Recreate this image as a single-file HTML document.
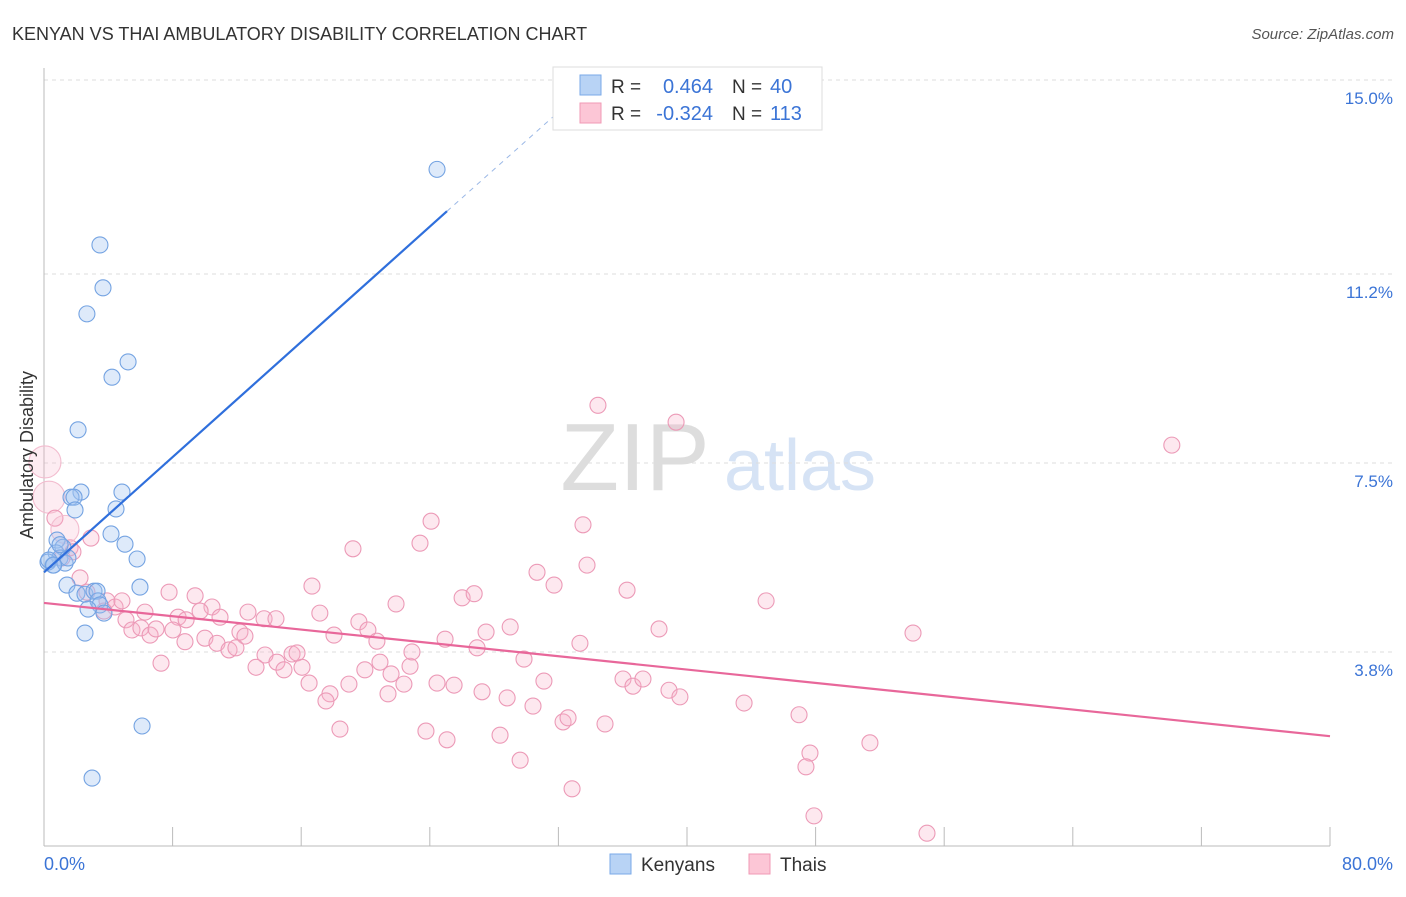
<!DOCTYPE html>
<html><head><meta charset="utf-8"><style>
body{margin:0;background:#fff;font-family:"Liberation Sans",sans-serif;}
svg text{font-family:"Liberation Sans",sans-serif;}
</style></head><body>
<svg id="c" width="1406" height="892" xmlns="http://www.w3.org/2000/svg">
<text x="12" y="40" font-size="18" fill="#333">KENYAN VS THAI AMBULATORY DISABILITY CORRELATION CHART</text>
<text x="1394" y="39" font-size="15" fill="#555" font-style="italic" text-anchor="end">Source: ZipAtlas.com</text>
<g>
<text x="635" y="490" font-size="96" fill="#ddd" font-family="Liberation Serif,serif" text-anchor="middle">ZIP</text>
<text x="800" y="490" font-size="72" fill="#d6e3f5" text-anchor="middle">atlas</text>
</g>
<g id="grid"></g><g id="axes"></g><g id="pts"></g><g id="trend"></g>
<text x="33" y="455" font-size="18" fill="#333" text-anchor="middle" transform="rotate(-90 33 455)">Ambulatory Disability</text>
<g>
<rect x="553" y="67" width="269" height="63" fill="#fff" stroke="#ddd"/>
<rect x="580" y="75" width="21" height="20" fill="#b8d3f5" stroke="#7aaae8"/>
<rect x="580" y="103" width="21" height="20" fill="#fcc6d6" stroke="#f09ab5"/>
<text x="611" y="93" font-size="19" fill="#333">R =</text><text x="713" y="93" font-size="20" fill="#3b74d6" text-anchor="end">0.464</text>
<text x="732" y="93" font-size="19" fill="#333">N =</text><text x="770" y="93" font-size="20" fill="#3b74d6">40</text>
<text x="611" y="120" font-size="19" fill="#333">R =</text><text x="713" y="120" font-size="20" fill="#3b74d6" text-anchor="end">-0.324</text>
<text x="732" y="120" font-size="19" fill="#333">N =</text><text x="770" y="120" font-size="20" fill="#3b74d6">113</text>
</g>
<g>
<rect x="610" y="854" width="21" height="20" fill="#b8d3f5" stroke="#7aaae8"/>
<text x="641" y="871" font-size="19" fill="#333">Kenyans</text>
<rect x="749" y="854" width="21" height="20" fill="#fcc6d6" stroke="#f09ab5"/>
<text x="780" y="871" font-size="19" fill="#333">Thais</text>
</g>
</svg>
<script>
const xTicks=[0,80];
const yTicks=[3.8,7.5,11.2,15.0];
const kenyanX=[24.45,3.48,3.67,2.67,5.23,4.23,2.12,2.30,4.85,1.68,1.87,1.93,4.48,4.17,0.81,5.04,1.18,0.75,0.99,5.79,0.56,1.31,1.49,1.43,5.97,2.05,2.55,3.11,3.30,3.36,3.48,2.74,3.73,2.55,6.10,2.99,0.25,0.3,0.6,1.0];
const kenyanY=[13.25,11.77,10.93,10.42,9.48,9.18,8.15,6.93,6.93,6.83,6.83,6.58,6.60,6.11,5.99,5.91,5.85,5.74,5.64,5.62,5.50,5.54,5.64,5.11,5.07,4.95,4.93,4.99,4.99,4.80,4.72,4.64,4.56,4.17,2.35,1.33,5.56,5.6,5.5,5.9];
const thaiX=[0.06,0.31,0.68,2.92,1.62,1.80,1.12,2.24,2.67,3.92,4.42,4.85,3.73,6.28,5.10,5.47,6.03,6.60,6.97,7.78,8.34,8.84,9.40,10.45,9.71,10.95,12.69,13.69,14.43,8.02,8.77,10.01,10.76,12.19,12.50,11.51,11.94,7.28,13.19,13.75,14.49,14.93,15.43,15.74,16.05,16.49,16.67,17.16,18.04,19.22,19.59,20.15,20.71,19.96,18.97,17.79,17.54,18.41,20.90,21.59,22.39,21.40,21.90,22.77,22.89,23.39,24.08,24.45,24.95,23.76,25.07,25.51,26.01,26.76,26.94,27.50,27.25,28.37,28.81,29.00,29.62,29.86,30.42,30.67,31.10,31.73,32.29,32.60,32.85,33.34,33.53,33.78,34.46,34.90,36.02,36.27,36.64,37.26,38.26,38.88,39.32,39.56,43.55,44.92,46.97,47.65,47.40,47.90,51.38,54.06,54.93,70.16,1.3];
const thaiY=[7.52,6.83,6.42,6.03,5.84,5.76,5.64,5.25,4.97,4.80,4.68,4.80,4.60,4.58,4.43,4.23,4.27,4.13,4.25,4.97,4.48,4.43,4.90,4.68,4.60,4.48,4.58,4.45,4.45,4.23,4.00,4.07,3.97,4.19,4.11,3.84,3.88,3.58,3.50,3.74,3.60,3.45,3.76,3.78,3.50,3.19,5.09,4.56,4.13,5.82,4.39,4.23,4.01,3.45,3.17,2.98,2.84,2.29,3.60,3.37,3.17,2.98,4.74,3.52,3.80,5.93,6.36,3.19,4.05,2.25,2.08,3.15,4.86,4.94,3.88,4.19,3.02,2.17,2.90,4.29,1.68,3.66,2.74,5.36,3.23,5.11,2.43,2.51,1.12,3.97,6.29,5.50,8.63,2.39,3.27,5.01,3.13,3.27,4.25,3.05,8.30,2.92,2.80,4.80,2.57,1.82,1.55,0.59,2.02,4.17,0.25,7.85,6.2];
const kenyanTrend=[[0,5.36],[25.07,12.43]];
const kenyanDash=[[25.07,12.43],[32.1,14.4]];
const thaiTrend=[[0,4.76],[80,2.15]];
const X=v=>44+v*1286/80, Y=v=>846-v*766/15;
const NS="http://www.w3.org/2000/svg";
function mk(p,tag,a){const e=document.createElementNS(NS,tag);for(const k in a)e.setAttribute(k,a[k]);document.getElementById(p).appendChild(e);return e;}
yTicks.forEach(t=>{
 const l=mk('grid','line',{x1:44,x2:1394,y1:Y(t),y2:Y(t),stroke:'#ddd','stroke-dasharray':'4,4'});
 
 
 const tx=mk('axes','text',{x:1393,y:Y(t)+24,'font-size':17,fill:'#3b74d6','text-anchor':'end'});
 tx.textContent=t.toFixed(1)+'%';
 
 
});
const ax=mk('axes','line',{x1:44,x2:1330,y1:846,y2:846,stroke:'#bbb'});


const ay=mk('axes','line',{x1:44,x2:44,y1:68,y2:846,stroke:'#bbb'});


for(let i=0;i<=10;i++){const tk=mk('axes','line',{x1:X(i*8),x2:X(i*8),y1:827,y2:846,stroke:'#bbb'});
 
 }
xTicks.forEach((t,i)=>{const tx=mk('axes','text',{x:i?1393:44,y:870,'font-size':18,fill:'#3b74d6','text-anchor':i?'end':'start'});
 tx.textContent=t.toFixed(1)+'%';
 
 });
thaiX.forEach((v,i)=>{const big=i<2||i==thaiX.length-1;const r=i<2?16:(big?14:8);
 const c=mk('pts','circle',{cx:X(v),cy:Y(thaiY[i]),r:r,fill:big?'rgba(248,180,202,0.25)':'rgba(248,180,202,0.3)',stroke:big?'#f3bccf':'#ec9ab7','stroke-width':1.1});
 
 });
kenyanX.forEach((v,i)=>{
 const c=mk('pts','circle',{cx:X(v),cy:Y(kenyanY[i]),r:8,fill:'rgba(160,196,240,0.35)',stroke:'#74a3e2','stroke-width':1.1});
 
 });
let t1=mk('trend','line',{x1:X(kenyanTrend[0][0]),y1:Y(kenyanTrend[0][1]),x2:X(kenyanTrend[1][0]),y2:Y(kenyanTrend[1][1]),stroke:'#2f6fdc','stroke-width':2.2});


let t2=mk('trend','line',{x1:X(kenyanDash[0][0]),y1:Y(kenyanDash[0][1]),x2:X(kenyanDash[1][0]),y2:Y(kenyanDash[1][1]),stroke:'#9bb8e6','stroke-width':1,'stroke-dasharray':'5,5'});


let t3=mk('trend','line',{x1:X(thaiTrend[0][0]),y1:Y(thaiTrend[0][1]),x2:X(thaiTrend[1][0]),y2:Y(thaiTrend[1][1]),stroke:'#e8679a','stroke-width':2.2});


</script>
</body></html>
